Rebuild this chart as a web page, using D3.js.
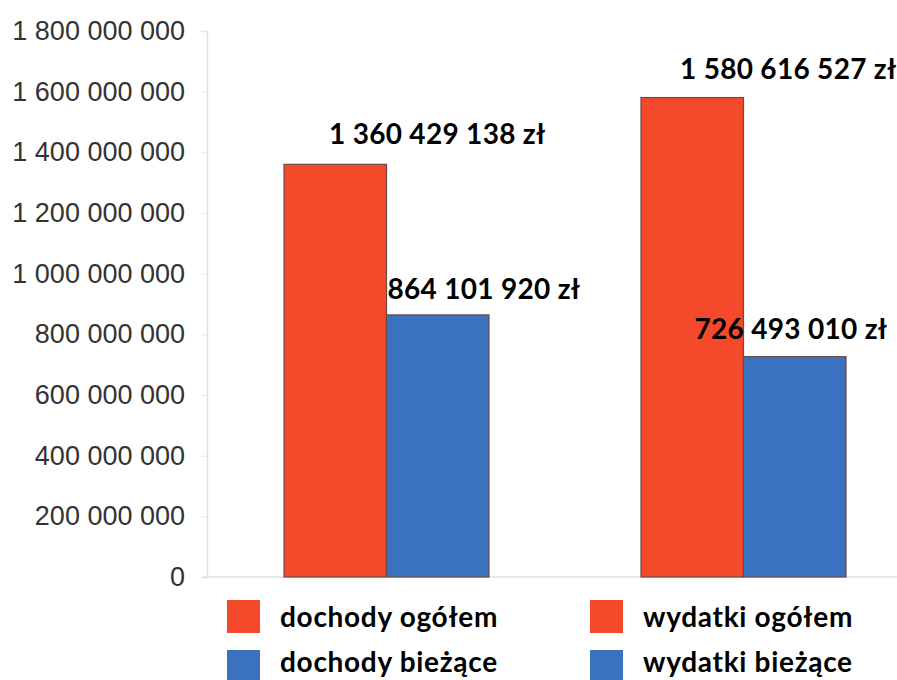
<!DOCTYPE html>
<html>
<head>
<meta charset="utf-8">
<script src="https://cdnjs.cloudflare.com/ajax/libs/d3/7.8.5/d3.min.js"></script>
<style>
  body { margin: 0; background: #fff; }
  #chart { width: 897px; height: 680px; }
</style>
</head>
<body>
<div id="chart"></div>
<script>
// data
var groups = ["dochody", "wydatki"];
var series = ["ogółem", "bieżące"];
var totalValues = [1360429138, 1580616527];
var currentValues = [864101920, 726493010];
var valueLabels = ["1 360 429 138 zł", "864 101 920 zł", "1 580 616 527 zł", "726 493 010 zł"];
var yTicks = [0, 200000000, 400000000, 600000000, 800000000, 1000000000, 1200000000, 1400000000, 1600000000, 1800000000];
var legendLabels = ["dochody ogółem", "dochody bieżące", "wydatki ogółem", "wydatki bieżące"];

var width = 897, height = 680;
var colors = { "ogółem": "#F4492B", "bieżące": "#3B72C0" };
// horizontal nudges for value labels (they sit unevenly in the original)
var labelDx = [45, 1, 39, -49];
var labelDy = [-20, -16, -19, -18];

var svg = d3.select("#chart").append("svg")
    .attr("width", width)
    .attr("height", height);

var yScale = d3.scaleLinear()
    .domain([0, 1800000000])
    .range([577, 31]);

var x0 = d3.scaleBand()
    .domain(groups)
    .range([208, 922])
    .paddingInner(0.4258)
    .paddingOuter(0.2129);

var x1 = d3.scaleBand()
    .domain(series)
    .range([0, x0.bandwidth()]);

var fmt = function(d) {
    return d3.format(",")(d).replace(/,/g, " ");
};

// y axis
var yAxis = svg.append("g")
    .attr("transform", "translate(207,0)")
    .call(d3.axisLeft(yScale).tickValues(yTicks).tickFormat(fmt).tickSize(6).tickPadding(16));
yAxis.select(".domain").attr("stroke", "#e2e2e2").attr("stroke-width", 1.5);
yAxis.selectAll(".tick line").attr("stroke", "#e6e6e6");
yAxis.selectAll("text")
    .attr("fill", "#333")
    .style("font-family", "'Liberation Sans', Arial, sans-serif")
    .style("font-size", "27px");

// baseline
svg.append("line")
    .attr("x1", 203).attr("x2", width)
    .attr("y1", yScale(0)).attr("y2", yScale(0))
    .attr("stroke", "#e0e0e0").attr("stroke-width", 1.5);

var rows = [];
groups.forEach(function(g, i) {
    rows.push({ group: g, s: series[0], value: totalValues[i] });
    rows.push({ group: g, s: series[1], value: currentValues[i] });
});

svg.selectAll("rect.bar")
    .data(rows)
    .enter()
    .append("rect")
    .attr("class", "bar")
    .attr("x", function(d) { return x0(d.group) + x1(d.s); })
    .attr("y", function(d) { return yScale(d.value); })
    .attr("width", x1.bandwidth())
    .attr("height", function(d) { return yScale(0) - yScale(d.value); })
    .attr("fill", function(d) { return colors[d.s]; })
    .attr("stroke", "#6b4a44")
    .attr("stroke-width", 1.2);

svg.selectAll("text.val")
    .data(rows)
    .enter()
    .append("text")
    .attr("class", "val")
    .attr("x", function(d, i) { return x0(d.group) + x1(d.s) + labelDx[i]; })
    .attr("y", function(d, i) { return yScale(d.value) + labelDy[i]; })
    .attr("fill", "#000")
    .style("font-family", "Lato, sans-serif")
    .style("font-weight", "bold")
    .style("font-size", "28px")
    .style("letter-spacing", "0.3px")
    .text(function(d, i) { return valueLabels[i]; });

// legend
var legend = svg.selectAll("g.leg")
    .data(legendLabels)
    .enter()
    .append("g")
    .attr("class", "leg")
    .attr("transform", function(d, i) {
        var col = Math.floor(i / 2), row = i % 2;
        return "translate(" + (227 + col * 363) + "," + (600 + row * 50) + ")";
    });

legend.append("rect")
    .attr("width", 33)
    .attr("height", 33)
    .attr("fill", function(d, i) { return colors[series[i % 2]]; });

legend.append("text")
    .attr("x", 53)
    .attr("y", function(d, i) { return i % 2 ? 22 : 27; })
    .attr("fill", "#000")
    .style("font-family", "Lato, sans-serif")
    .style("font-weight", "bold")
    .style("font-size", "28px")
    .style("letter-spacing", "0.7px")
    .text(function(d) { return d; });
</script>
</body>
</html>
